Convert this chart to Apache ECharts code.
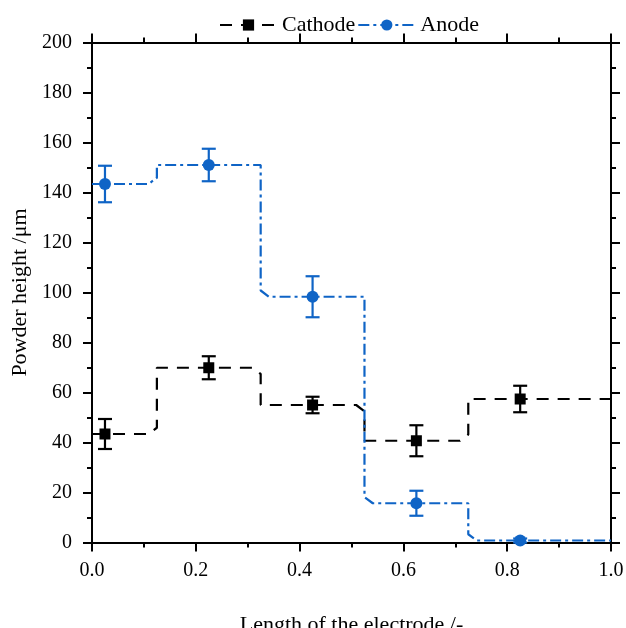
<!DOCTYPE html>
<html><head><meta charset="utf-8">
<script src="https://cdn.jsdelivr.net/npm/echarts/dist/echarts.min.js"></script>
<style>html,body{margin:0;padding:0;background:#fff}#c{width:626px;height:628px}</style>
</head><body><div id="c"></div>
<script>
// ---- data ----
const positions = [0.025, 0.225, 0.425, 0.625, 0.825];
const stepEdges = [0, 0.125, 0.325, 0.525, 0.725, 1.0];
const cathodeValues = [43.4, 69.9, 55.0, 40.7, 57.4];
const cathodeErrors = [6.0, 4.6, 3.3, 6.2, 5.3];
const anodeValues = [143.4, 151.0, 98.3, 15.7, 0.8];
const anodeErrors = [7.3, 6.5, 8.2, 5.0, 0.8];
const seriesNames = ['Cathode', 'Anode'];
const xTitle = 'Length of the electrode /-';
const yTitle = 'Powder height /\u03bcm';

// ---- styles ----
const FONT = 'Liberation Serif';
const BLUE = '#0f64c6';
const BLACK = '#000000';

function stepPath(vals, mode) {
  const n = vals.length;
  const pts = [[stepEdges[0], vals[0]]];
  for (let i = 1; i < n; i++) {
    const m = stepEdges[i], y0 = vals[i - 1], y1 = vals[i];
    const up = y1 > y0;
    if (mode === 'start' || up) {
      pts.push([m - 0.016, y0], [m, y0 + (up ? 2.5 : -2.5)], [m, y1]);
    } else {
      pts.push([m, y0], [m, y1 + 2.5], [m + 0.016, y1]);
    }
  }
  pts.push([stepEdges[n], vals[n - 1]]);
  return pts;
}
function pointData(vals, errs) {
  return vals.map((v, i) => [positions[i], v, errs[i]]);
}
function errorSeries(vals, errs, color) {
  return {
    type: 'custom', name: 'err', z: 3,
    data: pointData(vals, errs),
    encode: { x: 0, y: 1 },
    renderItem: function (params, api) {
      const x = api.value(0), y = api.value(1), e = api.value(2);
      const t = api.coord([x, y + e]), b = api.coord([x, y - e]);
      const w = 7;
      const st = { stroke: color, lineWidth: 2.2 };
      return { type: 'group', children: [
        { type: 'line', shape: { x1: t[0], y1: t[1], x2: b[0], y2: b[1] }, style: st },
        { type: 'line', shape: { x1: t[0] - w, y1: t[1], x2: t[0] + w, y2: t[1] }, style: st },
        { type: 'line', shape: { x1: b[0] - w, y1: b[1], x2: b[0] + w, y2: b[1] }, style: st }
      ]};
    }
  };
}

const axisCommon = {
  axisLine: { show: true, onZero: false, lineStyle: { color: BLACK, width: 2 } },
  axisTick: { show: true, inside: false, length: 9, lineStyle: { color: BLACK, width: 2 } },
  minorTick: { show: true, splitNumber: 2, length: 5, lineStyle: { color: BLACK, width: 2 } },
  splitLine: { show: false },
};

const chart = echarts.init(document.getElementById('c'));
chart.setOption({
  animation: false,
  backgroundColor: '#ffffff',
  textStyle: { fontFamily: FONT },
  grid: { left: 92, right: 15, top: 42.5, bottom: 85.5, containLabel: false, outerBoundsMode: 'none' },
  legend: {
    data: seriesNames, top: 9, left: 214, itemGap: 2,
    itemWidth: 57, itemHeight: 14,
    textStyle: { fontFamily: FONT, fontSize: 22, color: BLACK }
  },
  xAxis: [
    Object.assign({}, axisCommon, {
      type: 'value', position: 'bottom', min: 0, max: 1, interval: 0.2,
      name: xTitle, nameLocation: 'middle', nameGap: 72,
      nameTextStyle: { fontFamily: FONT, fontSize: 22, color: BLACK },
      axisLabel: { margin: 18, fontFamily: FONT, fontSize: 20, color: BLACK,
        formatter: v => v.toFixed(1) }
    }),
    Object.assign({}, axisCommon, {
      type: 'value', position: 'top', min: 0, max: 1, interval: 0.2,
      axisLabel: { show: false }
    })
  ],
  yAxis: [
    Object.assign({}, axisCommon, {
      type: 'value', position: 'left', min: 0, max: 200, interval: 20,
      name: yTitle, nameLocation: 'middle', nameGap: 53,
      nameTextStyle: { fontFamily: FONT, fontSize: 22, color: BLACK },
      axisLabel: { margin: 20, fontFamily: FONT, fontSize: 20, color: BLACK }
    }),
    Object.assign({}, axisCommon, {
      type: 'value', position: 'right', min: 0, max: 200, interval: 20,
      axisLabel: { show: false }
    })
  ],
  series: [
    {
      type: 'line', name: 'Cathode', z: 2,
      data: stepPath(cathodeValues, 'start'),
      symbol: 'rect', symbolSize: 11, showSymbol: false,
      itemStyle: { color: BLACK },
      lineStyle: { color: BLACK, width: 2.2, type: [12, 9] }
    },
    {
      type: 'line', name: 'Anode', z: 2,
      data: stepPath(anodeValues, 'lower'),
      symbol: 'circle', symbolSize: 12, showSymbol: false,
      itemStyle: { color: BLUE },
      lineStyle: { color: BLUE, width: 2.2, type: [11, 4, 3, 4] }
    },
    errorSeries(cathodeValues, cathodeErrors, BLACK),
    errorSeries(anodeValues, anodeErrors, BLUE),
    {
      type: 'scatter', name: 'Cathode points', z: 4,
      data: pointData(cathodeValues, cathodeErrors),
      symbol: 'rect', symbolSize: 11, itemStyle: { color: BLACK, opacity: 1 }
    },
    {
      type: 'scatter', name: 'Anode points', z: 4,
      data: pointData(anodeValues, anodeErrors),
      symbol: 'circle', symbolSize: 12, itemStyle: { color: BLUE, opacity: 1 }
    }
  ]
});
</script>
</body></html>
